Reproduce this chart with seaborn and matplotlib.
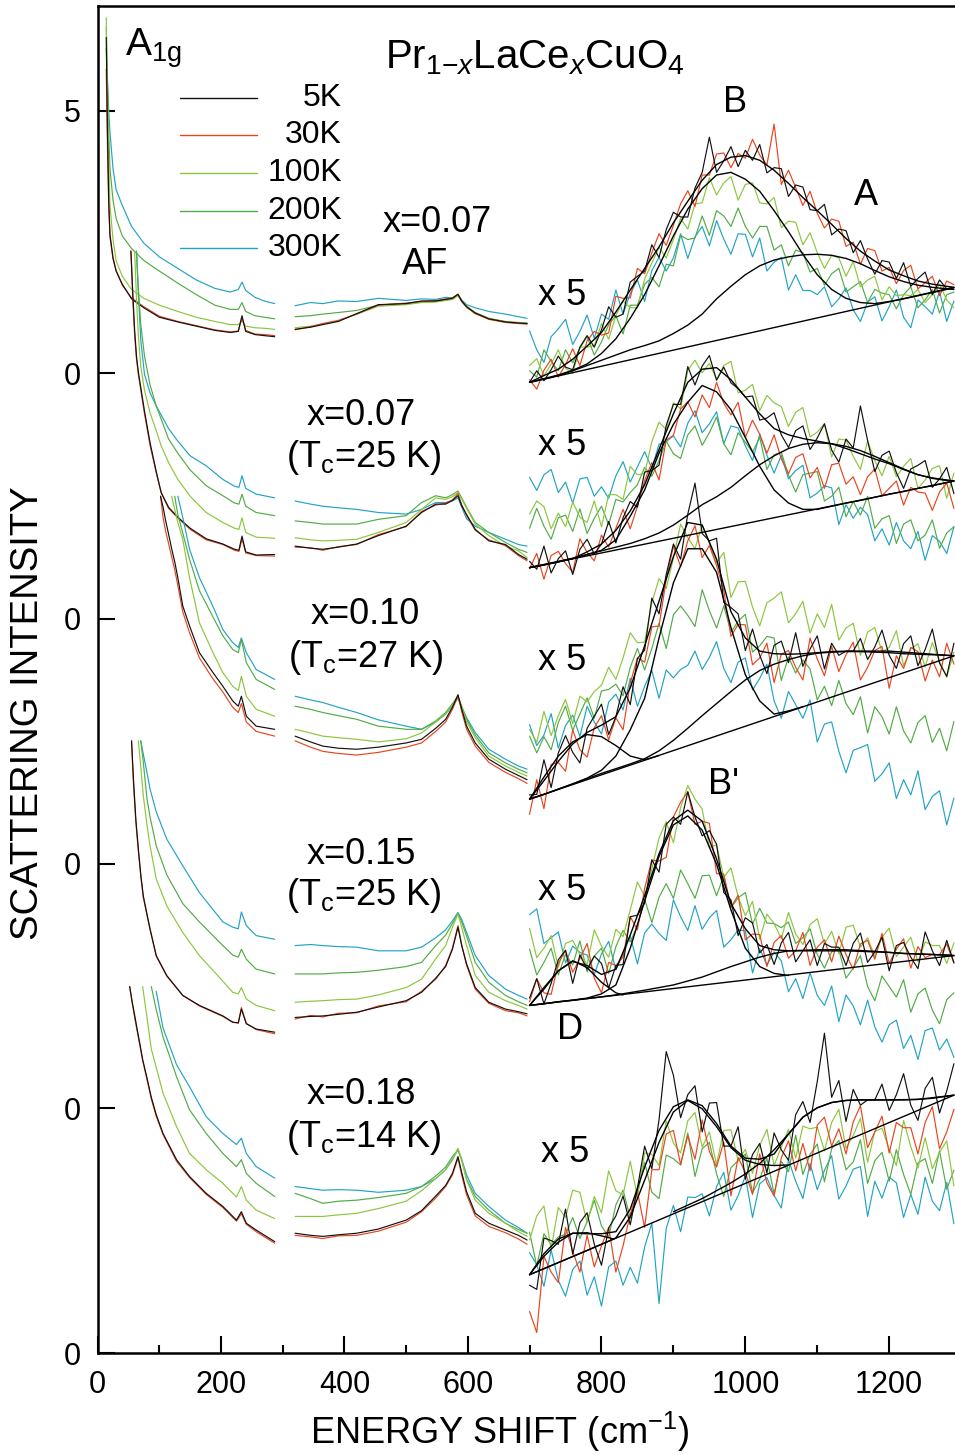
import numpy as np
import matplotlib
matplotlib.use('Agg')
import matplotlib.pyplot as plt
from matplotlib.lines import Line2D
import seaborn as sns

nan = np.nan

temps = ['5K', '30K', '100K', '200K', '300K']
colors = ['#111111', '#e8441e', '#8cc63e', '#52ab46', '#22a3c4']

# vertical offsets of the five spectra (bottom of each panel)
offsets = [18.67, 14.0, 9.33, 4.67, 0.0]
ytick_pos = [0, 4.67, 9.33, 14.0, 18.67, 23.67]
ytick_lab = ['0', '0', '0', '0', '0', '5']

# ---------------- shared x grids ----------------
mid_x = [320, 345, 365, 390, 420, 455, 500, 525, 548, 564, 575, 584, 590, 598, 612, 634, 661, 682, 696]
hi_x = list(range(700, 1291, 10))          # measured x5 spectra
fit_x = [700, 720, 740, 760, 780, 800, 820, 840, 860, 880, 900, 920, 940, 960, 980, 1000,
         1020, 1040, 1060, 1080, 1100, 1120, 1140, 1160, 1180, 1200, 1220, 1240, 1260, 1280, 1290]
bg_x = [700, 1290]

# ---------------- x = 0.07 AF ----------------
p1_lo_x = [14, 16, 18, 20, 25, 30, 40, 55, 75, 100, 130, 160, 190, 215, 228, 234, 240, 255, 270, 287]
p1_lo = [
    [6.40, 4.60, 3.30, 2.65, 2.20, 1.95, 1.70, 1.42, 1.25, 1.07, 0.98, 0.90, 0.82, 0.78, 0.80, 1.10, 0.80, 0.74, 0.72, 0.70],
    [5.80, 4.30, 3.20, 2.60, 2.18, 1.96, 1.68, 1.44, 1.27, 1.09, 0.99, 0.91, 0.83, 0.79, 0.81, 1.06, 0.82, 0.75, 0.74, 0.72],
    [6.78, 5.40, 4.10, 3.20, 2.55, 2.15, 1.85, 1.60, 1.43, 1.30, 1.18, 1.07, 0.99, 0.93, 0.93, 1.00, 0.90, 0.87, 0.86, 0.84],
    [6.60, 5.50, 4.60, 3.90, 3.30, 2.95, 2.62, 2.38, 2.15, 1.95, 1.72, 1.50, 1.30, 1.22, 1.22, 1.35, 1.18, 1.10, 1.07, 1.04],
    [6.20, 5.60, 5.00, 4.60, 3.90, 3.50, 3.20, 2.80, 2.48, 2.22, 2.00, 1.78, 1.62, 1.55, 1.60, 1.74, 1.58, 1.45, 1.38, 1.33],
]
p1_mid = [
    [0.84, 0.88, 0.93, 0.99, 1.14, 1.31, 1.33, 1.38, 1.38, 1.41, 1.43, 1.51, 1.38, 1.27, 1.15, 1.04, 0.98, 0.96, 0.95],
    [0.83, 0.89, 0.95, 1.01, 1.13, 1.30, 1.34, 1.37, 1.39, 1.42, 1.44, 1.50, 1.37, 1.26, 1.14, 1.03, 0.97, 0.95, 0.94],
    [0.87, 0.90, 0.94, 1.00, 1.13, 1.28, 1.31, 1.35, 1.36, 1.39, 1.41, 1.48, 1.37, 1.26, 1.14, 1.04, 0.98, 0.96, 0.95],
    [1.08, 1.10, 1.13, 1.16, 1.20, 1.30, 1.33, 1.36, 1.37, 1.40, 1.41, 1.50, 1.38, 1.28, 1.16, 1.05, 0.99, 0.97, 0.96],
    [1.29, 1.35, 1.33, 1.38, 1.37, 1.43, 1.39, 1.42, 1.41, 1.45, 1.44, 1.50, 1.40, 1.31, 1.25, 1.18, 1.13, 1.08, 1.05],
]
p1_hi = [
    [-0.17, 0.05, -0.14, 0.07, 0.33, 0.12, 0.07, 0.50, 0.72, 0.50,
     0.83, 1.27, 1.07, 1.13, 1.74, 1.85, 1.95, 2.45, 2.21, 2.74,
     3.07, 2.98, 2.98, 3.53, 3.83, 4.50, 3.83, 4.05, 4.32, 3.94,
     4.25, 4.06, 4.36, 3.82, 3.92, 3.90, 3.37, 3.59, 3.55, 3.12,
     3.10, 3.22, 2.64, 2.75, 2.72, 2.30, 2.53, 2.18, 1.89, 2.15,
     2.12, 1.81, 2.11, 1.66, 1.81, 1.93, 1.50, 1.78, 1.61, 1.64],
    [-0.12, -0.30, 0.06, 0.27, -0.07, 0.17, 0.47, 0.15, 0.62, 0.80,
     0.73, 0.77, 1.47, 1.43, 1.44, 2.00, 1.90, 2.30, 2.66, 2.44,
     2.82, 3.23, 3.48, 3.18, 3.78, 3.78, 4.18, 4.20, 3.92, 4.19,
     4.10, 4.46, 4.16, 3.97, 4.75, 3.60, 3.87, 3.54, 3.20, 3.47,
     3.05, 2.77, 2.94, 2.90, 2.42, 2.50, 2.08, 2.38, 2.34, 1.95,
     2.02, 1.71, 1.96, 2.06, 1.61, 1.73, 1.85, 1.48, 1.76, 1.69],
    [0.15, 0.28, -0.05, 0.18, 0.45, 0.10, 0.00, 0.50, 0.50, 0.53,
     0.95, 0.65, 1.10, 1.38, 1.25, 1.25, 1.80, 2.10, 2.40, 2.20,
     2.55, 2.95, 2.75, 3.23, 3.25, 3.73, 3.40, 3.63, 3.75, 3.30,
     3.60, 3.63, 3.25, 3.23, 3.35, 2.78, 2.90, 2.88, 2.45, 2.68,
     2.30, 2.00, 2.25, 2.20, 1.85, 2.13, 1.65, 1.78, 1.85, 1.40,
     1.65, 1.48, 1.50, 1.48, 1.60, 1.35, 1.50, 1.70, 1.40, 1.25],
    [0.05, -0.07, 0.45, 0.23, 0.05, 0.45, 0.20, 0.48, 0.70, 0.35,
     0.60, 0.93, 1.10, 0.75, 1.30, 1.30, 1.70, 1.83, 1.65, 2.08,
     2.05, 2.63, 2.55, 2.58, 3.00, 2.63, 3.10, 3.00, 2.80, 3.15,
     2.80, 2.58, 2.80, 2.80, 2.35, 2.45, 2.05, 2.35, 2.30, 1.93,
     2.00, 1.68, 1.90, 2.00, 1.55, 1.65, 1.75, 1.35, 1.60, 1.53,
     1.50, 1.23, 1.50, 1.65, 1.25, 1.40, 1.60, 1.15, 1.50, 1.55],
    [0.81, 0.45, 0.21, 0.70, 0.85, 1.03, 0.55, 0.80, 1.11, 0.67,
     1.13, 1.03, 1.59, 1.13, 1.52, 1.78, 1.37, 1.96, 2.21, 1.95,
     2.20, 2.66, 2.19, 2.60, 2.80, 2.43, 2.91, 2.56, 2.27, 2.66,
     2.65, 2.22, 2.58, 1.95, 2.12, 2.21, 1.59, 1.88, 1.58, 1.58,
     1.50, 1.65, 1.27, 1.42, 1.63, 1.21, 0.99, 1.36, 1.46, 1.00,
     1.27, 1.59, 1.07, 0.87, 1.40, 1.27, 1.13, 1.56, 0.99, 1.38],
]
p1_fit_total = [-0.17, -0.04, 0.08, 0.27, 0.52, 0.78, 1.17, 1.59, 2.00, 2.41, 2.87, 3.28, 3.68, 3.98, 4.12, 4.15,
                4.06, 3.87, 3.62, 3.35, 3.10, 2.84, 2.57, 2.33, 2.14, 1.97, 1.86, 1.76, 1.70, 1.66, 1.64]
p1_fit_B = [-0.17, -0.10, -0.03, 0.06, 0.18, 0.38, 0.66, 1.05, 1.50, 2.05, 2.62, 3.13, 3.52, 3.78, 3.83, 3.70,
            3.47, 3.10, 2.70, 2.27, 1.88, 1.60, 1.43, 1.35, 1.33, 1.37, 1.42, 1.48, 1.54, 1.60, 1.63]
p1_fit_A = [-0.17, -0.11, -0.04, 0.05, 0.15, 0.25, 0.35, 0.45, 0.53, 0.62, 0.76, 0.92, 1.13, 1.42, 1.66, 1.88,
            2.05, 2.16, 2.22, 2.26, 2.27, 2.25, 2.19, 2.09, 1.96, 1.84, 1.75, 1.68, 1.64, 1.61, 1.60]
p1_bg = [-0.17, 1.64]

# ---------------- x = 0.07 (Tc = 25 K) ----------------
p2_lo_x = [54, 57, 60, 63, 66, 70, 76, 85, 95, 103, 115, 130, 150, 176, 203, 222, 229, 234, 240, 257, 287]
p2_lo = [
    [7.00, 6.20, 5.50, 5.00, 4.70, 4.40, 3.95, 3.35, 2.80, 2.40, 2.12, 1.93, 1.72, 1.52, 1.42, 1.32, 1.30, 1.57, 1.27, 1.21, 1.22],
    [7.00, 6.10, 5.40, 4.95, 4.65, 4.35, 3.90, 3.30, 2.78, 2.40, 2.10, 1.92, 1.70, 1.50, 1.41, 1.30, 1.28, 1.52, 1.25, 1.20, 1.19],
    [nan, nan, 7.00, 6.10, 5.40, 4.80, 4.35, 3.92, 3.58, 3.29, 2.97, 2.65, 2.33, 2.02, 1.83, 1.72, 1.70, 1.92, 1.64, 1.55, 1.53],
    [nan, nan, nan, 7.00, 6.30, 5.60, 5.00, 4.45, 4.05, 3.80, 3.42, 3.15, 2.83, 2.53, 2.34, 2.20, 2.18, 2.37, 2.14, 2.02, 1.96],
    [nan, nan, nan, 7.00, 6.20, 5.30, 4.65, 4.30, 4.05, 3.88, 3.62, 3.38, 3.10, 2.91, 2.65, 2.52, 2.50, 2.72, 2.48, 2.37, 2.30],
]
p2_mid = [
    [1.38, 1.34, 1.32, 1.36, 1.42, 1.58, 1.76, 2.02, 2.18, 2.18, 2.25, 2.34, 2.15, 1.98, 1.70, 1.48, 1.41, 1.22, 1.13],
    [1.36, 1.35, 1.30, 1.37, 1.41, 1.60, 1.75, 2.04, 2.16, 2.20, 2.26, 2.38, 2.17, 1.96, 1.68, 1.50, 1.39, 1.20, 1.10],
    [1.54, 1.50, 1.48, 1.49, 1.51, 1.64, 1.83, 2.08, 2.30, 2.27, 2.32, 2.40, 2.28, 2.10, 1.80, 1.58, 1.38, 1.29, 1.16],
    [1.86, 1.83, 1.80, 1.80, 1.80, 1.89, 1.96, 2.21, 2.34, 2.30, 2.36, 2.43, 2.30, 2.12, 1.83, 1.64, 1.45, 1.32, 1.26],
    [2.24, 2.18, 2.14, 2.11, 2.08, 2.02, 1.99, 2.08, 2.21, 2.21, 2.24, 2.30, 2.12, 1.90, 1.76, 1.64, 1.51, 1.41, 1.38],
]
p2_hi = [
    [1.09, 0.94, 1.38, 0.87, 1.14, 1.29, 0.84, 1.32, 1.51, 1.23,
     1.42, 1.85, 1.44, 1.92, 2.23, 2.12, 2.79, 2.82, 2.92, 3.68,
     4.08, 4.08, 4.80, 4.45, 4.81, 5.01, 4.54, 4.79, 4.49, 4.38,
     4.22, 4.24, 3.78, 3.82, 3.92, 3.50, 3.26, 3.58, 3.67, 3.22,
     3.44, 3.71, 3.21, 2.98, 3.42, 3.25, 4.05, 3.39, 2.80, 3.11,
     3.19, 2.78, 2.48, 2.85, 2.92, 3.01, 2.50, 2.66, 2.88, 2.38],
    [0.95, 1.24, 0.75, 1.20, 1.28, 1.05, 0.88, 1.52, 1.26, 1.10,
     1.59, 1.36, 1.72, 2.08, 1.71, 2.14, 2.63, 2.97, 2.64, 3.40,
     3.49, 3.99, 4.13, 3.84, 4.26, 4.02, 4.50, 4.10, 3.88, 4.12,
     3.45, 3.78, 3.51, 3.15, 3.50, 3.04, 2.76, 3.07, 3.14, 2.68,
     2.88, 2.48, 2.93, 2.96, 2.56, 2.70, 2.36, 2.70, 2.85, 2.34,
     2.48, 2.62, 2.16, 2.50, 2.41, 2.39, 2.06, 2.41, 2.58, 2.10],
    [1.99, 2.24, 2.13, 1.71, 2.01, 1.75, 2.22, 1.93, 1.83, 2.24,
     1.75, 2.36, 2.36, 2.27, 2.90, 2.74, 2.76, 3.37, 3.74, 3.60,
     4.11, 4.00, 4.73, 4.92, 4.68, 4.86, 4.56, 4.82, 4.90, 4.30,
     4.35, 4.46, 3.96, 4.25, 4.11, 4.04, 3.66, 3.93, 4.02, 3.46,
     3.55, 3.71, 3.08, 3.42, 3.40, 3.09, 2.84, 3.38, 3.01, 2.72,
     3.09, 2.70, 2.90, 3.05, 2.48, 2.64, 2.86, 2.91, 2.29, 2.77],
    [1.72, 2.10, 1.76, 1.51, 1.92, 1.97, 1.66, 2.09, 1.62, 1.91,
     2.14, 1.79, 2.27, 2.22, 2.40, 2.55, 2.88, 2.71, 3.01, 3.38,
     3.14, 3.05, 3.50, 3.67, 3.30, 3.54, 3.84, 3.33, 3.12, 3.54,
     3.36, 3.17, 3.45, 2.84, 3.12, 3.17, 2.73, 2.41, 2.74, 2.77,
     2.80, 2.24, 2.33, 2.50, 1.94, 2.23, 1.97, 2.33, 1.72, 1.90,
     1.96, 1.43, 1.80, 1.88, 1.48, 1.59, 1.88, 1.34, 1.63, 1.75],
    [2.69, 2.44, 2.74, 2.84, 2.40, 2.60, 2.20, 2.66, 2.69, 2.33,
     2.51, 2.29, 2.72, 2.99, 2.60, 2.89, 3.18, 2.86, 3.32, 3.37,
     3.48, 3.27, 3.72, 3.96, 3.54, 3.71, 3.94, 3.33, 3.67, 3.63,
     3.29, 3.01, 3.51, 3.11, 2.77, 3.11, 2.66, 2.82, 2.92, 2.30,
     2.39, 2.53, 2.49, 1.79, 2.17, 1.91, 2.12, 1.98, 1.48, 1.71,
     1.40, 1.83, 1.48, 1.33, 1.66, 1.11, 1.58, 1.47, 1.24, 1.75],
]
p2_fit_total = [0.97, 1.02, 1.08, 1.14, 1.27, 1.42, 1.68, 2.05, 2.55, 3.22, 3.90, 4.50, 4.75, 4.78, 4.55, 4.22,
                3.90, 3.62, 3.50, 3.43, 3.38, 3.33, 3.24, 3.14, 3.04, 2.95, 2.84, 2.74, 2.68, 2.64, 2.62]
p2_fit_B = [0.97, 1.02, 1.08, 1.14, 1.22, 1.30, 1.50, 1.95, 2.45, 3.15, 3.70, 4.12, 4.44, 4.32, 3.98, 3.45,
            2.90, 2.45, 2.20, 2.08, 2.08, 2.14, 2.20, 2.25, 2.31, 2.37, 2.42, 2.48, 2.53, 2.59, 2.62]
p2_fit_A = [0.97, 1.03, 1.09, 1.15, 1.22, 1.29, 1.36, 1.43, 1.52, 1.63, 1.78, 1.97, 2.17, 2.32, 2.50, 2.72,
            2.93, 3.10, 3.24, 3.32, 3.35, 3.33, 3.28, 3.20, 3.09, 2.97, 2.85, 2.74, 2.67, 2.63, 2.62]
p2_bg = [0.97, 2.62]

# ---------------- x = 0.10 ----------------
p3_lo_x = [102, 106, 110, 115, 120, 125, 130, 138, 149, 165, 187, 203, 219, 228, 233, 241, 257, 287]
p3_lo = [
    [7.00, 6.80, 6.55, 6.28, 6.00, 5.75, 5.45, 4.91, 4.53, 4.02, 3.64, 3.38, 3.10, 3.00, 3.19, 2.81, 2.62, 2.56],
    [7.00, 6.60, 6.35, 6.10, 5.85, 5.60, 5.30, 4.80, 4.40, 3.92, 3.52, 3.27, 2.98, 2.88, 3.05, 2.70, 2.52, 2.43],
    [nan, nan, nan, nan, 7.00, 6.75, 6.50, 6.18, 5.45, 4.59, 4.02, 3.64, 3.38, 3.30, 3.57, 3.19, 2.94, 2.81],
    [nan, nan, nan, nan, nan, 7.00, 6.65, 6.30, 5.80, 5.20, 4.70, 4.34, 4.08, 4.02, 4.27, 3.83, 3.51, 3.32],
    [nan, nan, nan, nan, nan, nan, 7.00, 6.60, 5.99, 5.45, 4.90, 4.46, 4.21, 4.12, 4.30, 4.02, 3.70, 3.51],
]
p3_mid = [
    [2.43, 2.32, 2.24, 2.20, 2.18, 2.22, 2.30, 2.37, 2.58, 2.75, 2.98, 3.22, 2.95, 2.62, 2.30, 1.99, 1.80, 1.68, 1.60],
    [2.34, 2.22, 2.14, 2.10, 2.07, 2.12, 2.22, 2.30, 2.52, 2.70, 2.94, 3.20, 2.90, 2.56, 2.24, 1.93, 1.74, 1.62, 1.53],
    [2.56, 2.49, 2.43, 2.40, 2.37, 2.32, 2.38, 2.49, 2.70, 2.85, 3.02, 3.16, 2.98, 2.70, 2.40, 2.05, 1.86, 1.74, 1.67],
    [3.00, 2.94, 2.88, 2.82, 2.75, 2.62, 2.56, 2.56, 2.72, 2.88, 3.05, 3.19, 3.00, 2.75, 2.45, 2.11, 1.92, 1.80, 1.73],
    [3.19, 3.12, 3.07, 2.98, 2.88, 2.74, 2.62, 2.56, 2.70, 2.85, 3.00, 3.15, 2.98, 2.78, 2.50, 2.18, 1.99, 1.86, 1.80],
]
p3_hi = [
    [1.31, 1.32, 1.98, 1.45, 2.11, 2.44, 2.12, 1.92, 2.58, 2.81,
     3.04, 2.46, 2.80, 3.37, 3.03, 3.91, 4.07, 5.06, 4.76, 5.51,
     6.09, 5.80, 6.66, 7.25, 6.29, 6.15, 6.20, 4.98, 4.88, 4.76,
     4.06, 4.47, 3.97, 3.62, 4.16, 4.24, 3.83, 4.40, 3.76, 4.09,
     4.34, 3.71, 4.20, 3.97, 4.05, 4.05, 4.29, 3.89, 4.13, 4.45,
     3.97, 3.72, 4.19, 4.34, 3.77, 4.08, 4.47, 3.82, 3.57, 4.20],
    [0.94, 1.60, 1.05, 1.89, 1.93, 1.76, 2.55, 2.17, 2.03, 2.59,
     2.82, 2.36, 2.78, 2.55, 3.44, 3.92, 3.84, 4.51, 4.53, 5.41,
     6.05, 5.66, 6.15, 6.44, 5.83, 6.06, 5.68, 5.21, 4.33, 4.56,
     4.55, 3.79, 3.92, 4.20, 3.45, 3.99, 4.06, 3.74, 3.50, 4.30,
     3.90, 3.58, 4.14, 3.66, 3.98, 4.22, 3.50, 3.74, 4.06, 4.14,
     3.34, 3.96, 3.72, 4.12, 4.04, 3.48, 3.88, 3.56, 4.20, 3.80],
    [2.56, 2.31, 2.90, 2.44, 2.82, 3.13, 2.67, 3.19, 3.08, 3.28,
     3.40, 3.74, 3.51, 3.92, 4.40, 4.21, 4.22, 4.97, 5.43, 5.24,
     5.82, 6.47, 6.21, 6.00, 6.46, 6.10, 5.73, 5.93, 5.07, 5.37,
     5.38, 4.89, 4.53, 4.97, 5.06, 5.18, 4.59, 4.76, 5.00, 4.39,
     4.76, 4.50, 4.94, 4.26, 4.49, 4.58, 3.97, 4.41, 4.50, 4.03,
     4.12, 4.44, 3.77, 4.09, 4.19, 3.75, 4.21, 3.85, 3.55, 4.03],
    [2.43, 2.11, 2.42, 2.17, 2.69, 3.00, 2.54, 2.85, 3.16, 2.77,
     3.29, 3.32, 3.42, 3.20, 3.74, 4.10, 3.69, 4.10, 4.58, 4.10,
     4.74, 4.91, 4.73, 4.52, 5.22, 4.82, 4.49, 4.91, 4.41, 4.62,
     4.75, 4.03, 4.15, 4.33, 4.30, 3.49, 3.94, 3.63, 3.88, 3.71,
     3.12, 3.38, 3.01, 3.49, 3.05, 2.84, 3.18, 2.49, 2.99, 2.80,
     2.47, 2.99, 2.53, 2.30, 2.69, 2.82, 2.31, 2.58, 2.15, 2.71],
    [2.65, 2.25, 2.45, 2.86, 2.20, 2.63, 2.83, 2.42, 3.00, 2.70,
     2.47, 3.08, 3.23, 2.93, 3.53, 3.00, 3.38, 3.68, 3.15, 3.69,
     3.54, 3.70, 3.78, 4.05, 3.70, 3.93, 4.23, 3.72, 3.45, 3.84,
     3.92, 3.31, 3.53, 3.80, 3.10, 2.77, 3.28, 3.03, 2.77, 3.12,
     2.32, 2.66, 2.70, 2.14, 1.73, 2.16, 2.21, 2.27, 1.57, 1.71,
     1.92, 1.24, 1.60, 1.31, 1.77, 1.03, 1.28, 1.39, 0.74, 1.25],
]
p3_fit_total = [1.23, 1.58, 1.95, 2.28, 2.50, 2.64, 2.80, 3.35, 4.15, 5.00, 5.85, 6.50, 6.45, 5.80, 4.80, 4.30,
                4.05, 4.00, 3.99, 4.00, 4.02, 4.04, 4.05, 4.05, 4.05, 4.05, 4.03, 4.01, 3.99, 3.97, 3.96]
p3_fit_D_x = [700, 720, 740, 760, 780, 800, 820, 840, 860, 880]
p3_fit_D = [1.23, 1.65, 2.05, 2.32, 2.46, 2.42, 2.25, 2.05, 1.98, 2.06]
p3_fit_B_x = [700, 720, 740, 760, 780, 800, 820, 840, 860, 880, 900, 920, 940, 960, 980, 1000, 1020, 1040, 1060, 1080]
p3_fit_B = [1.23, 1.32, 1.42, 1.52, 1.63, 1.78, 2.05, 2.55, 3.15, 4.30, 5.35, 6.00, 6.00, 5.55, 4.50, 3.60,
            3.10, 2.85, 2.91, 2.99]
p3_fit_A = [1.23, 1.32, 1.42, 1.52, 1.62, 1.72, 1.81, 1.90, 2.00, 2.15, 2.35, 2.58, 2.82, 3.05, 3.28, 3.50,
            3.68, 3.80, 3.89, 3.96, 4.01, 4.03, 4.04, 4.04, 4.03, 4.02, 4.00, 3.99, 3.98, 3.97, 3.96]
p3_bg = [1.23, 3.96]

# ---------------- x = 0.15 ----------------
p4_lo_x = [55, 58, 62, 66, 70, 74, 80, 85, 95, 112, 138, 165, 203, 219, 228, 233, 241, 257, 287]
p4_lo = [
    [7.00, 6.30, 5.50, 4.95, 4.45, 4.05, 3.70, 3.42, 2.91, 2.53, 2.15, 1.96, 1.76, 1.64, 1.63, 1.89, 1.61, 1.51, 1.45],
    [7.00, 6.20, 5.45, 4.90, 4.42, 4.02, 3.68, 3.40, 2.90, 2.52, 2.15, 1.95, 1.75, 1.64, 1.62, 1.92, 1.62, 1.50, 1.42],
    [nan, nan, nan, 7.00, 6.50, 5.96, 5.40, 5.00, 4.37, 3.86, 3.35, 2.91, 2.42, 2.21, 2.18, 2.30, 2.08, 1.96, 1.86],
    [nan, nan, nan, nan, 7.00, 6.60, 5.90, 5.55, 5.00, 4.45, 3.90, 3.55, 3.10, 2.92, 2.88, 3.03, 2.84, 2.65, 2.56],
    [nan, nan, nan, nan, 7.00, 6.75, 6.40, 6.08, 5.65, 5.13, 4.62, 4.11, 3.55, 3.45, 3.42, 3.74, 3.48, 3.29, 3.22],
]
p4_mid = [
    [1.73, 1.75, 1.76, 1.79, 1.83, 1.93, 2.05, 2.21, 2.48, 2.70, 3.03, 3.45, 3.10, 2.75, 2.30, 2.02, 1.89, 1.84, 1.80],
    [1.70, 1.77, 1.74, 1.81, 1.82, 1.95, 2.03, 2.23, 2.46, 2.72, 3.05, 3.48, 3.12, 2.72, 2.27, 2.00, 1.86, 1.82, 1.76],
    [2.02, 2.04, 2.05, 2.07, 2.08, 2.16, 2.30, 2.46, 2.85, 3.10, 3.45, 3.70, 3.45, 3.10, 2.53, 2.21, 2.05, 1.96, 1.89],
    [2.56, 2.56, 2.56, 2.58, 2.59, 2.63, 2.70, 2.78, 3.10, 3.30, 3.52, 3.71, 3.55, 3.28, 2.78, 2.40, 2.15, 2.03, 1.96],
    [3.10, 3.12, 3.10, 3.08, 3.07, 3.00, 3.00, 3.07, 3.25, 3.40, 3.57, 3.73, 3.60, 3.35, 2.91, 2.53, 2.27, 2.15, 2.08],
]
p4_hi = [
    [2.10, 2.47, 1.99, 2.38, 2.83, 3.01, 2.38, 2.92, 2.65, 2.90,
     2.76, 2.29, 2.72, 2.74, 3.65, 3.68, 3.91, 4.73, 4.50, 5.41,
     5.55, 5.41, 6.03, 5.55, 5.19, 5.29, 5.03, 4.11, 3.97, 3.29,
     3.63, 3.53, 2.96, 3.12, 2.74, 3.15, 3.35, 2.79, 3.00, 3.21,
     2.72, 3.14, 3.07, 3.07, 2.72, 3.14, 3.34, 2.78, 2.98, 3.26,
     2.62, 3.10, 3.16, 2.88, 2.66, 3.36, 3.00, 2.72, 3.20, 2.77],
    [2.03, 2.47, 2.20, 2.17, 2.76, 3.01, 2.59, 2.85, 3.14, 2.48,
     2.20, 2.78, 2.72, 2.88, 3.65, 3.40, 4.19, 4.73, 4.71, 4.78,
     5.55, 5.83, 6.03, 5.41, 5.47, 5.43, 4.47, 4.46, 3.83, 4.06,
     3.21, 3.32, 3.31, 2.70, 3.16, 3.29, 2.86, 3.00, 3.35, 2.72,
     3.07, 3.21, 2.79, 3.28, 2.93, 2.65, 3.13, 3.20, 2.84, 3.33,
     2.76, 3.03, 3.23, 2.67, 3.08, 2.87, 2.93, 2.93, 3.13, 2.77],
    [3.43, 2.87, 3.05, 3.29, 2.69, 3.14, 3.20, 2.93, 2.74, 3.40,
     3.09, 2.88, 3.41, 3.27, 3.78, 4.31, 4.04, 4.56, 5.15, 5.46,
     5.06, 5.73, 6.15, 5.89, 5.70, 4.97, 5.02, 4.40, 4.58, 4.03,
     3.67, 3.94, 3.22, 3.70, 3.52, 3.23, 3.73, 3.32, 3.12, 3.50,
     3.61, 3.13, 3.37, 2.95, 3.45, 3.49, 3.07, 3.25, 2.89, 3.26,
     3.43, 2.89, 3.07, 3.26, 2.79, 3.17, 3.10, 3.10, 2.76, 3.15],
    [3.03, 2.54, 2.78, 3.05, 2.54, 2.93, 2.73, 3.19, 2.60, 2.90,
     3.05, 2.57, 3.08, 3.39, 3.17, 3.48, 3.98, 3.54, 4.02, 4.28,
     4.00, 4.54, 4.28, 4.00, 4.43, 4.44, 4.05, 4.43, 3.82, 4.01,
     4.11, 3.51, 3.81, 3.53, 3.52, 3.44, 3.55, 3.14, 3.25, 3.42,
     2.93, 2.67, 2.98, 3.03, 2.48, 2.67, 2.91, 2.32, 2.05, 2.52,
     2.32, 2.12, 2.45, 1.83, 2.18, 2.29, 1.87, 1.61, 2.07, 2.20],
    [3.69, 3.80, 3.14, 3.25, 3.36, 2.77, 3.09, 2.97, 2.92, 2.55,
     2.94, 3.18, 2.64, 2.93, 3.28, 2.75, 3.34, 3.51, 3.33, 3.20,
     3.97, 3.65, 3.39, 3.86, 3.41, 3.63, 3.77, 3.07, 3.21, 3.40,
     3.38, 2.58, 3.04, 2.73, 2.98, 2.81, 2.22, 2.47, 2.09, 2.58,
     2.15, 1.96, 2.33, 1.65, 2.16, 1.95, 1.59, 2.06, 1.55, 1.26,
     1.59, 1.68, 1.14, 1.39, 0.93, 1.48, 1.53, 1.11, 1.32, 0.97],
]
p4_fit_total = [1.96, 2.27, 2.62, 2.80, 2.72, 2.55, 2.65, 3.30, 4.05, 4.85, 5.48, 5.68, 5.47, 4.75, 3.90, 3.42,
                3.10, 3.02, 3.00, 3.00, 3.00, 3.00, 3.00, 2.99, 2.98, 2.97, 2.95, 2.94, 2.93, 2.92, 2.91]
p4_fit_D_x = [700, 720, 740, 760, 780, 800, 820, 830]
p4_fit_D = [1.96, 2.30, 2.62, 2.81, 2.68, 2.40, 2.20, 2.16]
p4_fit_B_x = [700, 720, 740, 760, 780, 800, 820, 840, 860, 880, 900, 920, 940, 960, 980, 1000, 1020, 1040, 1060]
p4_fit_B = [1.96, 1.99, 2.03, 2.06, 2.10, 2.18, 2.35, 3.05, 3.95, 4.80, 5.40, 5.57, 5.30, 4.65, 3.78, 3.05,
            2.70, 2.57, 2.53]
p4_fit_A_x = [700, 740, 780, 820, 860, 900, 940, 980, 1000, 1020, 1040, 1060, 1100, 1140, 1180, 1220, 1260, 1290]
p4_fit_A = [1.96, 2.03, 2.09, 2.16, 2.25, 2.35, 2.50, 2.70, 2.79, 2.88, 2.95, 3.00, 3.02, 3.02, 2.99, 2.95, 2.93, 2.91]
p4_bg = [1.96, 2.91]

# ---------------- x = 0.18 ----------------
p5_lo_x = [52, 56, 60, 64, 68, 73, 80, 87, 95, 106, 128, 149, 176, 203, 225, 233, 241, 257, 287]
p5_lo = [
    [6.99, 6.70, 6.45, 6.18, 5.93, 5.60, 5.25, 4.88, 4.55, 4.19, 3.69, 3.37, 3.05, 2.80, 2.54, 2.70, 2.48, 2.35, 2.13],
    [6.99, 6.68, 6.40, 6.15, 5.90, 5.58, 5.22, 4.85, 4.52, 4.17, 3.66, 3.35, 3.03, 2.78, 2.52, 2.66, 2.46, 2.32, 2.10],
    [nan, nan, nan, nan, nan, 6.99, 6.40, 5.80, 5.45, 4.96, 4.32, 3.81, 3.50, 3.24, 2.98, 3.18, 2.92, 2.73, 2.57],
    [nan, nan, nan, nan, nan, nan, nan, 6.99, 6.55, 6.03, 5.27, 4.64, 4.19, 3.81, 3.56, 3.69, 3.43, 3.24, 2.99],
    [nan, nan, nan, nan, nan, nan, nan, nan, 6.90, 6.20, 5.50, 5.08, 4.51, 4.19, 3.98, 4.10, 3.81, 3.56, 3.34],
]
p5_mid = [
    [2.29, 2.25, 2.23, 2.26, 2.29, 2.37, 2.54, 2.72, 3.00, 3.20, 3.43, 3.75, 3.45, 3.08, 2.67, 2.48, 2.35, 2.25, 2.16],
    [2.25, 2.22, 2.19, 2.24, 2.25, 2.33, 2.50, 2.70, 2.96, 3.18, 3.40, 3.72, 3.40, 3.02, 2.62, 2.42, 2.30, 2.18, 2.08],
    [2.61, 2.61, 2.61, 2.64, 2.67, 2.76, 2.90, 3.10, 3.33, 3.50, 3.68, 3.91, 3.70, 3.30, 2.92, 2.67, 2.48, 2.32, 2.23],
    [3.05, 2.95, 2.86, 2.90, 2.92, 2.97, 3.05, 3.18, 3.38, 3.55, 3.75, 3.88, 3.68, 3.32, 2.99, 2.73, 2.48, 2.36, 2.29],
    [3.18, 3.14, 3.11, 3.12, 3.11, 3.07, 3.11, 3.18, 3.33, 3.50, 3.70, 3.88, 3.70, 3.40, 3.05, 2.80, 2.54, 2.40, 2.29],
]
p5_hi = [
    [1.30, 1.22, 2.20, 2.15, 2.08, 2.75, 1.89, 2.49, 2.68, 2.08,
     1.68, 2.39, 2.62, 3.00, 2.45, 3.15, 3.95, 3.52, 4.45, 5.75,
     5.30, 4.49, 4.93, 5.10, 4.22, 4.77, 4.78, 3.95, 3.95, 4.32,
     3.32, 3.79, 4.00, 3.44, 4.20, 3.88, 3.68, 4.55, 4.80, 4.40,
     5.18, 6.10, 4.88, 5.20, 4.42, 5.03, 4.73, 4.83, 4.83, 5.13,
     4.63, 4.93, 5.33, 4.73, 4.44, 5.05, 5.26, 4.58, 5.00, 5.52],
    [0.80, 0.40, 1.85, 1.55, 1.35, 2.40, 1.95, 1.55, 2.25, 1.65,
     2.05, 2.40, 1.55, 2.05, 2.65, 3.08, 2.40, 3.50, 3.50, 4.18,
     4.25, 3.60, 4.15, 3.70, 4.45, 3.85, 3.55, 4.03, 3.00, 3.73,
     3.45, 3.03, 3.80, 3.25, 3.00, 3.73, 4.05, 3.48, 4.00, 3.48,
     4.35, 4.50, 3.95, 4.28, 3.80, 4.41, 4.72, 3.92, 4.22, 4.52,
     3.82, 4.40, 4.30, 4.30, 3.80, 4.40, 4.70, 3.90, 4.22, 4.65],
    [2.16, 2.62, 2.81, 1.99, 2.78, 2.59, 3.11, 3.07, 2.49, 2.99,
     2.68, 3.48, 3.10, 3.02, 3.66, 2.98, 3.82, 3.79, 3.58, 4.43,
     4.01, 3.82, 4.43, 4.59, 3.93, 4.22, 3.60, 4.25, 4.26, 3.67,
     3.89, 3.43, 3.96, 4.27, 3.58, 3.93, 4.27, 3.72, 4.33, 4.28,
     4.31, 3.86, 4.40, 4.65, 3.91, 4.15, 4.48, 3.64, 4.23, 4.29,
     3.89, 3.58, 4.44, 3.94, 3.53, 4.11, 3.52, 3.83, 4.05, 3.19],
    [2.31, 1.67, 2.28, 2.07, 2.22, 2.27, 2.59, 2.19, 2.51, 2.92,
     2.43, 2.22, 2.83, 3.11, 2.58, 3.07, 3.64, 3.07, 2.95, 3.78,
     3.71, 3.59, 4.20, 3.37, 3.90, 4.02, 3.42, 2.99, 3.54, 3.67,
     3.80, 3.06, 3.32, 3.72, 3.04, 3.66, 3.46, 4.16, 3.41, 3.79,
     3.99, 3.27, 3.90, 4.06, 3.50, 3.65, 4.07, 3.24, 3.67, 3.83,
     3.28, 3.88, 3.41, 3.03, 3.63, 3.71, 3.24, 3.86, 3.13, 3.49],
    [1.92, 1.69, 1.28, 1.97, 1.39, 1.09, 1.60, 1.76, 1.11, 1.46,
     0.90, 1.65, 1.76, 1.30, 1.64, 1.34, 2.03, 2.48, 0.95, 2.38,
     2.82, 2.32, 2.98, 2.97, 3.04, 2.62, 3.18, 3.45, 2.73, 3.01,
     3.38, 2.59, 3.23, 3.35, 3.01, 2.77, 3.69, 3.28, 2.95, 3.62,
     3.12, 3.49, 3.77, 2.94, 3.19, 3.51, 3.56, 2.61, 3.28, 2.96,
     3.36, 3.25, 2.59, 3.03, 2.65, 3.36, 2.90, 2.72, 3.26, 2.47],
]
p5_fit_total = [1.50, 1.90, 2.18, 2.29, 2.28, 2.28, 2.32, 2.75, 3.55, 4.25, 4.70, 4.83, 4.72, 4.38, 3.95, 3.72,
                3.70, 3.80, 4.18, 4.50, 4.68, 4.78, 4.82, 4.83, 4.83, 4.83, 4.83, 4.84, 4.86, 4.90, 4.92]
p5_fit_D_x = [700, 720, 740, 760, 780, 800, 817]
p5_fit_D = [1.50, 1.85, 2.12, 2.29, 2.30, 2.24, 2.18]
p5_fit_B_x = [700, 740, 780, 800, 820, 840, 860, 880, 900, 920, 940, 960, 980, 1000, 1020, 1040, 1060]
p5_fit_B = [1.50, 1.73, 1.96, 2.08, 2.20, 2.60, 3.30, 4.02, 4.60, 4.82, 4.66, 4.32, 3.92, 3.68, 3.60, 3.58, 3.59]
p5_fit_A_x = [900, 940, 980, 1000, 1020, 1040, 1060, 1080, 1100, 1120, 1140, 1160, 1200, 1240, 1290]
p5_fit_A = [2.70, 2.95, 3.25, 3.42, 3.62, 3.88, 4.18, 4.50, 4.68, 4.78, 4.82, 4.83, 4.83, 4.84, 4.92]
p5_bg = [1.50, 4.92]

# ---------------- style ----------------
sns.set_style('ticks', {'axes.edgecolor': 'black', 'text.color': 'black',
                        'xtick.color': 'black', 'ytick.color': 'black',
                        'axes.labelcolor': 'black'})
plt.rcParams['font.family'] = ['Liberation Sans', 'DejaVu Sans']
plt.rcParams['mathtext.fontset'] = 'custom'
plt.rcParams['mathtext.rm'] = 'Liberation Sans'
plt.rcParams['mathtext.it'] = 'Liberation Sans:italic'
plt.rcParams['mathtext.bf'] = 'Liberation Sans:bold'

fig = plt.figure(figsize=(9.55, 14.55), dpi=100)
ax = fig.add_axes([0.1022, 0.0698, 0.8978, 0.9261])

DATA_LW = 0.85
FIT_LW = 1.0


def draw_set(x, rows, off):
    # draw 300K first so that 5K ends up on top
    for row, col in list(zip(rows, colors))[::-1]:
        y = np.array(row, dtype=float) + off
        sns.lineplot(x=x, y=y, ax=ax, color=col, lw=DATA_LW, estimator=None,
                     sort=False, legend=False)


def draw_fit(x, vals, off):
    sns.lineplot(x=x, y=np.array(vals) + off, ax=ax, color='black', lw=FIT_LW,
                 estimator=None, sort=False, legend=False)


panels = [
    (p1_lo_x, p1_lo, p1_mid, p1_hi),
    (p2_lo_x, p2_lo, p2_mid, p2_hi),
    (p3_lo_x, p3_lo, p3_mid, p3_hi),
    (p4_lo_x, p4_lo, p4_mid, p4_hi),
    (p5_lo_x, p5_lo, p5_mid, p5_hi),
]
for (lo_x, lo, mid, hi), off in zip(panels, offsets):
    draw_set(lo_x, lo, off)
    draw_set(mid_x, mid, off)
    draw_set(hi_x, hi, off)

# fits
draw_fit(fit_x, p1_fit_total, offsets[0])
draw_fit(fit_x, p1_fit_B, offsets[0])
draw_fit(fit_x, p1_fit_A, offsets[0])
draw_fit(bg_x, p1_bg, offsets[0])

draw_fit(fit_x, p2_fit_total, offsets[1])
draw_fit(fit_x, p2_fit_B, offsets[1])
draw_fit(fit_x, p2_fit_A, offsets[1])
draw_fit(bg_x, p2_bg, offsets[1])

draw_fit(fit_x, p3_fit_total, offsets[2])
draw_fit(p3_fit_D_x, p3_fit_D, offsets[2])
draw_fit(p3_fit_B_x, p3_fit_B, offsets[2])
draw_fit(fit_x, p3_fit_A, offsets[2])
draw_fit(bg_x, p3_bg, offsets[2])

draw_fit(fit_x, p4_fit_total, offsets[3])
draw_fit(p4_fit_D_x, p4_fit_D, offsets[3])
draw_fit(p4_fit_B_x, p4_fit_B, offsets[3])
draw_fit(p4_fit_A_x, p4_fit_A, offsets[3])
draw_fit(bg_x, p4_bg, offsets[3])

draw_fit(fit_x, p5_fit_total, offsets[4])
draw_fit(p5_fit_D_x, p5_fit_D, offsets[4])
draw_fit(p5_fit_B_x, p5_fit_B, offsets[4])
draw_fit(p5_fit_A_x, p5_fit_A, offsets[4])
draw_fit(bg_x, p5_bg, offsets[4])

# broken x scale: the x5 part above 700 cm-1 is stretched
K = 0.72 / 0.6177


def fwd(x):
    x = np.asarray(x, dtype=float)
    return np.where(x <= 700, x, 700 + (x - 700) * K)


def inv(u):
    u = np.asarray(u, dtype=float)
    return np.where(u <= 700, u, 700 + (u - 700) / K)


ax.set_xscale('function', functions=(fwd, inv))
ax.set_xlim(0, 1291.5)
ax.set_ylim(0, 25.67)

ax.set_xticks(range(0, 1201, 200))
ax.set_xticks(range(100, 1201, 200), minor=True)
ax.set_yticks(ytick_pos)
ax.set_yticklabels(ytick_lab)
ax.tick_params(axis='both', which='major', direction='in', length=12, width=1.5,
               labelsize=22, top=False, right=False)
ax.tick_params(axis='x', which='major', pad=12)
ax.tick_params(axis='y', which='major', pad=12)
ax.tick_params(axis='x', which='minor', direction='in', length=5.5, width=1.5, top=False)
for side in ['left', 'bottom', 'top']:
    ax.spines[side].set_linewidth(1.8)
    ax.spines[side].set_color('black')
ax.spines['right'].set_visible(False)

ax.set_xlabel('ENERGY SHIFT (cm$^{-1}$)', fontsize=26)
ax.xaxis.set_label_coords(0.4693, -0.0583)
ax.xaxis.label.set_va('center')
ax.set_ylabel('SCATTERING INTENSITY', fontsize=27.5)
ax.yaxis.set_label_coords(-0.0812, 0.4753)
ax.yaxis.label.set_va('center')

# legend drawn by hand (labels are right aligned in the original)
leg_y = [0.9319, 0.9040, 0.8760, 0.8481, 0.8202]
for t, col, yy in zip(temps, colors, leg_y):
    ax.add_line(Line2D([0.0961, 0.1859], [yy, yy], transform=ax.transAxes, color=col, lw=1.0))
    ax.text(0.2850, yy, t, transform=ax.transAxes, ha='right', va='center', fontsize=23)

BIG = 26
ax.text(44, 24.73, r'A$_{\mathrm{1g}}$', fontsize=28, ha='left', va='baseline')
ax.text(465, 24.49, r'Pr$_{1{-}x}$LaCe$_{x}$CuO$_{4}$', fontsize=29, ha='left', va='baseline')

ax.text(551, 21.36, 'x=0.07', fontsize=BIG, ha='center', va='baseline')
ax.text(530, 20.56, 'AF', fontsize=BIG, ha='center', va='baseline')
ax.text(428, 17.69, 'x=0.07', fontsize=BIG, ha='center', va='baseline')
ax.text(431, 16.89, r'(T$_{\mathrm{c}}$=25 K)', fontsize=BIG, ha='center', va='baseline')
ax.text(434, 13.90, 'x=0.10', fontsize=BIG, ha='center', va='baseline')
ax.text(434, 13.08, r'(T$_{\mathrm{c}}$=27 K)', fontsize=BIG, ha='center', va='baseline')
ax.text(428, 9.32, 'x=0.15', fontsize=BIG, ha='center', va='baseline')
ax.text(431, 8.54, r'(T$_{\mathrm{c}}$=25 K)', fontsize=BIG, ha='center', va='baseline')
ax.text(428, 4.75, 'x=0.18', fontsize=BIG, ha='center', va='baseline')
ax.text(431, 3.93, r'(T$_{\mathrm{c}}$=14 K)', fontsize=BIG, ha='center', va='baseline')

for xx, yy in [(745, 19.97), (745, 17.12), (745, 13.02), (745, 8.64), (750, 3.65)]:
    ax.text(xx, yy, 'x 5', fontsize=BIG, ha='center', va='baseline')

ax.text(986, 23.65, 'B', fontsize=BIG, ha='center', va='baseline')
ax.text(1168, 21.88, 'A', fontsize=BIG, ha='center', va='baseline')
ax.text(970, 10.66, "B'", fontsize=BIG, ha='center', va='baseline')
ax.text(756, 5.99, 'D', fontsize=BIG, ha='center', va='baseline')

fig.savefig('out.png', dpi=100)
